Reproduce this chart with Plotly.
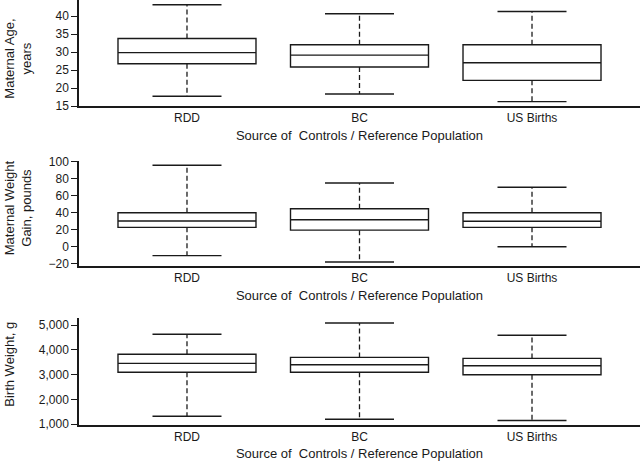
import plotly.graph_objects as go
from plotly.subplots import make_subplots

categories = ["RDD", "BC", "US Births"]

# Maternal age, years
age_lower = [17.8, 18.4, 16.3]
age_q1 = [26.8, 25.9, 22.2]
age_median = [29.9, 29.2, 27.1]
age_q3 = [33.8, 32.1, 32.1]
age_upper = [43.2, 40.7, 41.3]

# Maternal weight gain, pounds
wg_lower = [-10.5, -18, 0]
wg_q1 = [22.8, 19.5, 22.8]
wg_median = [30.2, 31.8, 30]
wg_q3 = [40, 44.7, 40]
wg_upper = [96, 75, 70]

# Birth weight, g
bw_lower = [1320, 1200, 1150]
bw_q1 = [3097, 3097, 3000]
bw_median = [3460, 3405, 3364]
bw_q3 = [3826, 3700, 3660]
bw_upper = [4636, 5093, 4595]

panels = [
    (age_lower, age_q1, age_median, age_q3, age_upper),
    (wg_lower, wg_q1, wg_median, wg_q3, wg_upper),
    (bw_lower, bw_q1, bw_median, bw_q3, bw_upper),
]

INK = "#1a1a1a"
FONT = "Liberation Sans, Arial, sans-serif"
CAP_HALF = 0.2
BOX_W = 0.8

fig = make_subplots(rows=3, cols=1)
xpos = list(range(len(categories)))

for r, (lo, q1, med, q3, up) in enumerate(panels, start=1):
    fig.add_trace(go.Box(
        x=xpos, q1=q1, median=med, q3=q3, lowerfence=q1, upperfence=q3,
        width=BOX_W, fillcolor="white", line=dict(color=INK, width=1.4),
        whiskerwidth=0, boxpoints=False, showlegend=False, hoverinfo="skip",
    ), row=r, col=1)
    wx, wy = [], []
    cx, cy = [], []
    for i in xpos:
        wx += [i, i, None, i, i, None]
        wy += [q3[i], up[i], None, q1[i], lo[i], None]
        cx += [i - CAP_HALF, i + CAP_HALF, None, i - CAP_HALF, i + CAP_HALF, None]
        cy += [up[i], up[i], None, lo[i], lo[i], None]
    fig.add_trace(go.Scatter(x=wx, y=wy, mode="lines",
                             line=dict(color=INK, width=1.3, dash="5px,3px"),
                             showlegend=False, hoverinfo="skip"), row=r, col=1)
    fig.add_trace(go.Scatter(x=cx, y=cy, mode="lines",
                             line=dict(color=INK, width=1.4),
                             showlegend=False, hoverinfo="skip"), row=r, col=1)

domains = [[0.7499, 1.0], [0.3734, 0.6212], [0.0, 0.2511]]
yranges = [[15, 44.5], [-23.1, 101], [965, 5283]]
ydticks = [5, 20, 1000]
yformats = ["", "", ","]
ytitles = ["Maternal Age,<br>years", "Maternal Weight<br>Gain, pounds", "Birth Weight, g"]
ycenters = [0.862, 0.51, 0.143]

for r in range(1, 4):
    fig.update_xaxes(
        row=r, col=1, domain=[0, 1], range=[-0.626, 2.626], tickvals=xpos,
        ticktext=categories, automargin=False,
        ticks="", showline=True, linecolor=INK, linewidth=1.5, showgrid=False,
        zeroline=False, tickfont=dict(family=FONT, size=12, color=INK),
        title=dict(text="Source of \u00a0Controls / Reference Population",
                   font=dict(family=FONT, size=13, color=INK), standoff=6),
    )
    fig.update_yaxes(
        row=r, col=1, domain=domains[r - 1], range=yranges[r - 1],
        automargin=False,
        tick0=0, dtick=ydticks[r - 1], tickformat=yformats[r - 1],
        ticks="outside", ticklen=6, tickwidth=1.3, tickcolor=INK,
        showline=True, linecolor=INK, linewidth=1.5, showgrid=False,
        zeroline=False, tickfont=dict(family=FONT, size=12, color=INK),
    )
    fig.add_annotation(
        text=ytitles[r - 1], textangle=-90, xref="paper", yref="paper",
        x=-79 / 561, xanchor="left", y=ycenters[r - 1], yanchor="middle",
        showarrow=False, font=dict(family=FONT, size=13, color=INK),
    )

fig.update_layout(
    width=640, height=462, margin=dict(l=79, r=0, t=0, b=37),
    paper_bgcolor="white", plot_bgcolor="white",
    font=dict(family=FONT, color=INK),
)

fig.write_html(
    "out.html",
    config={"displayModeBar": False},
    post_script="document.body.style.margin='0';document.body.style.overflow='hidden';",
)
